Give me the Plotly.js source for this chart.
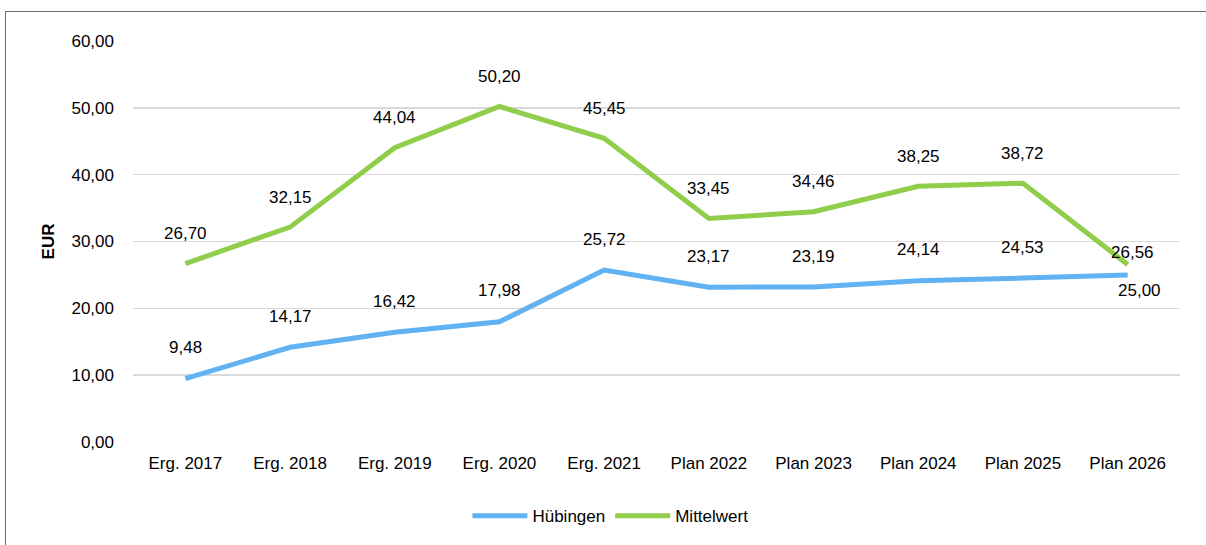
<!DOCTYPE html>
<html>
<head>
<meta charset="utf-8">
<script src="https://cdn.plot.ly/plotly-3.0.1.min.js"></script>
<style>
html,body{margin:0;padding:0;background:#fff;}
#wrap{position:relative;width:1206px;height:545px;}
#chart{position:absolute;left:0;top:0;width:1206px;height:545px;}
#frame{position:absolute;left:5px;top:11px;width:1210px;height:600px;border-left:1px solid #6b6b6b;border-top:1px solid #6b6b6b;pointer-events:none;}
</style>
</head>
<body>
<div id="wrap"><div id="chart"></div><div id="frame"></div></div>
<script>
const categories = ["Erg. 2017","Erg. 2018","Erg. 2019","Erg. 2020","Erg. 2021","Plan 2022","Plan 2023","Plan 2024","Plan 2025","Plan 2026"];
const huebingen = [9.48,14.17,16.42,17.98,25.72,23.17,23.19,24.14,24.53,25.00];
const mittelwert = [26.70,32.15,44.04,50.20,45.45,33.45,34.46,38.25,38.72,26.56];
const seriesNames = ["Hübingen","Mittelwert"];
const yTicks = [0,10,20,30,40,50,60];

const fmt = v => v.toFixed(2).replace('.', ',');
const blue = '#60B2F2', green = '#8FCD4B';
const font = 'Liberation Sans, Arial, sans-serif';
const fs = 17;

const traces = [
  {x: categories, y: huebingen, name: seriesNames[0], type: 'scatter', mode: 'lines',
   line: {color: blue, width: 5}},
  {x: categories, y: mittelwert, name: seriesNames[1], type: 'scatter', mode: 'lines',
   line: {color: green, width: 5}}
];

const annotations = [];
const n = categories.length;
huebingen.forEach((v,i) => {
  const last = i === n-1;
  annotations.push({x: categories[i], y: v, text: fmt(v), showarrow: false,
    xshift: last ? 12 : 0, yshift: last ? -16 : 31, font: {family: font, size: fs, color: '#000'}});
});
mittelwert.forEach((v,i) => {
  const last = i === n-1;
  annotations.push({x: categories[i], y: v, text: fmt(v), showarrow: false,
    xshift: last ? 5 : 0, yshift: last ? 12 : 30, font: {family: font, size: fs, color: '#000'}});
});

const layout = {
  width: 1206, height: 545,
  margin: {l: 133, r: 26, t: 41, b: 103, autoexpand: false},
  paper_bgcolor: 'rgba(0,0,0,0)', plot_bgcolor: '#fff',
  font: {family: font, size: fs, color: '#000'},
  showlegend: true,
  legend: {orientation: 'h', x: 0.456, xanchor: 'center', y: -0.185, yanchor: 'middle',
    font: {family: font, size: fs, color: '#000'}, itemwidth: 55, traceorder: 'normal'},
  xaxis: {type: 'category', range: [-0.5, n - 0.5], showgrid: false, zeroline: false, showline: false,
    ticks: '', tickfont: {family: font, size: fs}, ticklabelstandoff: 9, tickangle: 0},
  yaxis: {range: [0, 60], tickvals: yTicks, ticktext: yTicks.map(fmt),
    showgrid: true, gridcolor: '#d9d9d9', gridwidth: 1.5, zeroline: false, showline: false,
    ticks: '', tickfont: {family: font, size: fs}, ticklabelstandoff: 18,
    title: {text: '<b>EUR</b>', font: {family: font, size: fs}, standoff: 12}},
  annotations: annotations
};

Plotly.newPlot('chart', traces, layout, {displayModeBar: false, staticPlot: true});
</script>
</body>
</html>
